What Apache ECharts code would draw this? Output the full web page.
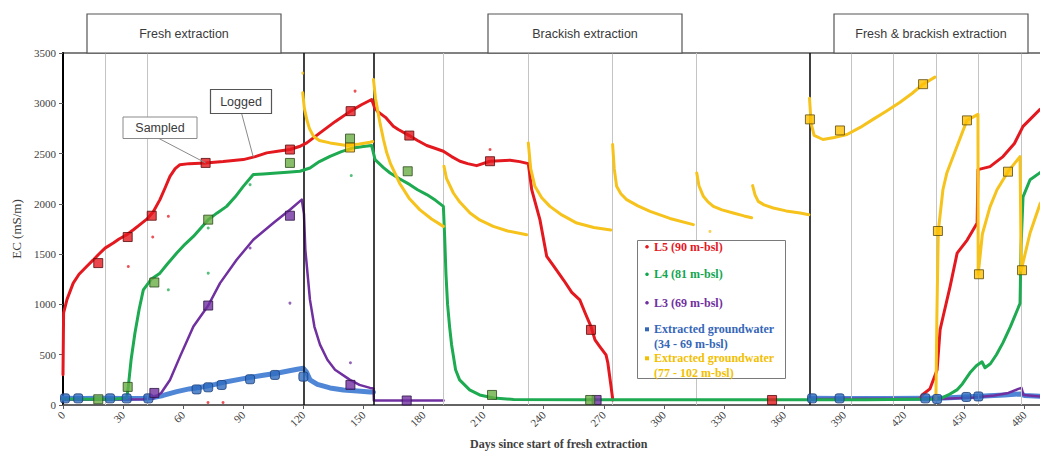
<!DOCTYPE html>
<html>
<head>
<meta charset="utf-8">
<script src="https://cdn.jsdelivr.net/npm/echarts/dist/echarts.min.js"></script>
<style>
  html, body { margin: 0; padding: 0; background: #ffffff; }
  #chart { width: 1040px; height: 451px; }
</style>
</head>
<body>
<div id="chart"></div>
<script>
// ---- Data: days since start of fresh extraction vs. EC (mS/m) ----

// x axis tick values
const dayTicks = [0, 30, 60, 90, 120, 150, 180, 210, 240, 270, 300, 330, 360, 390, 420, 450, 480];
// y axis tick values
const ecTicks = [0, 500, 1000, 1500, 2000, 2500, 3000, 3500];

// Phase change days (black) and well operation changes (grey)
const phaseDays = [120, 155, 372.7];
const changeDays = [21, 42, 190, 232.3, 274.4, 316.4, 393.4, 414.6, 435.8, 456.8, 478.3];

// Logged EC, monitoring well L5 (90 m-bsl)
const l5Logged = [
  [0, 300], [0.3, 916], [2, 1050], [5.1, 1212], [8, 1300], [11.8, 1377], [15, 1440], [17.6, 1494],
  [21, 1560], [25.1, 1610], [28, 1650], [31.8, 1693], [35, 1740], [38.4, 1793], [42, 1850], [45, 1920],
  [48.4, 2042], [51, 2160], [53.4, 2274], [56, 2350], [58.4, 2390], [63, 2400], [71.2, 2407], [80, 2420],
  [90, 2440], [96, 2470], [101.7, 2507], [108, 2525], [113.3, 2540], [118, 2570], [121.7, 2606],
  [128.3, 2706], [136, 2820], [143.6, 2922], [149, 2985], [154.1, 3038], [155.5, 2960], [157, 2920],
  [161, 2860], [164.9, 2772], [167.4, 2739], [172.9, 2679], [177, 2630], [181.6, 2580], [186, 2550],
  [189.9, 2523], [194, 2470], [198.2, 2424], [202, 2400], [206.5, 2380], [213.2, 2424], [223.2, 2434],
  [228, 2420], [232.3, 2400], [234, 2141], [238.1, 1843], [241.5, 1477], [245, 1380], [250, 1240],
  [254, 1120], [258, 1045], [261, 900], [263.6, 780], [265.6, 647], [268, 580], [271.1, 498], [272, 420],
  [273.5, 200], [274.5, 50], [275, null],
  [428, 60], [428.9, 100], [432.8, 160], [436.4, 350], [437.9, 750],
  [439.4, 880], [442.9, 1180], [446.4, 1510], [451.4, 1640], [456.4, 1810], [456.8, 2340], [462.8, 2370],
  [469.3, 2470], [475, 2600], [479.3, 2770], [482.8, 2840], [487.8, 2940], [495, 3000]
];
// Sampled EC, L5
const l5Sampled = [
  [17.6, 1411], [32.3, 1670], [44.3, 1882], [71.2, 2407], [113.3, 2540], [143.6, 2922],
  [172.9, 2679], [213.2, 2424], [263.6, 747], [354, 50]
];
// Isolated logger readings, L5
const l5Spikes = [[32.6, 1377], [44.8, 1670], [52.6, 1876], [72.4, 25], [79.9, 25], [145.8, 3121], [213.2, 2540]];

// Logged EC, monitoring well L4 (81 m-bsl)
const l4Logged = [
  [0, 60], [15, 58], [25, 58], [31.8, 70], [32.6, 182], [34, 450], [35.9, 714], [38, 950], [40.1, 1145],
  [44, 1250], [48.4, 1311], [52, 1400], [56.8, 1511], [61, 1600], [65.1, 1676], [72.5, 1843], [77, 1910],
  [81.7, 1975], [86, 2070], [90, 2174], [95, 2291], [100, 2298], [106.7, 2307], [112, 2315], [118.3, 2324],
  [123.3, 2357], [128, 2420], [133.3, 2473], [139, 2520], [144.9, 2556], [150, 2570], [154.1, 2580],
  [155.8, 2440], [160, 2360], [163.3, 2307], [168, 2250], [173.2, 2191], [177, 2140], [181.6, 2092],
  [186, 2035], [189.9, 1975], [190.5, 1700], [191.2, 1300], [192, 1000], [193, 780], [194, 600], [196, 350],
  [198, 250], [203, 150], [208, 100], [215, 70], [225, 55], [260, 52], [300, 52], [350, 52], [400, 52],
  [437.8, 60], [442, 100], [446.3, 150], [449, 210], [452.8, 320], [456, 390], [458.8, 430], [460.3, 370],
  [463, 410], [466, 500], [469.3, 620], [473, 780], [477.8, 1010], [478.3, 1570], [479.3, 2070],
  [482.8, 2240], [487.8, 2310], [495, 2380]
];
const l4Sampled = [
  [17.6, 57], [32.3, 180], [45.6, 1218], [72.5, 1843], [113.3, 2407], [143.3, 2649], [172.1, 2324],
  [214.2, 100], [263.2, 50]
];
const l4Spikes = [[52.6, 1145], [72.5, 1311], [72.5, 1760], [93.4, 2191], [143.9, 2281]];

// Logged EC, monitoring well L3 (69 m-bsl)
const l3Logged = [
  [0, 55], [20, 55], [40, 58], [45, 65], [49, 120], [53.4, 249], [58.4, 481], [65.1, 780], [72.5, 989],
  [78.4, 1212], [86.7, 1444], [95, 1643], [105, 1809], [113.3, 1942], [119.2, 2042], [120.3, 1900],
  [121, 1540], [123.3, 1045], [125.5, 780], [128.3, 600], [132, 450], [135.8, 350], [143.3, 250],
  [148, 200], [153.3, 170], [155, 165], [155.2, 45], [190, 45], [190.2, null],
  [372.7, 60], [400, 62], [440, 62], [455, 75], [465, 95], [472, 120], [477, 160], [478.5, 170],
  [479.5, 100], [488, 85], [495, 80]
];
const l3Sampled = [[45.6, 120], [72.5, 989], [113.3, 1882], [143.5, 200], [171.6, 45], [266.4, 50]];
const l3Spikes = [[93.4, 1561], [113.3, 1013], [143.5, 420]];

// Extracted groundwater, fresh screens (34 - 69 m-bsl)
const freshLogged = [
  [0, 66], [10, 64], [20, 66], [30, 65], [40, 68], [45, 75], [50, 95], [56.8, 133], [63, 160], [70, 182],
  [76, 205], [81.7, 232], [88, 255], [93.4, 275], [100, 295], [106.7, 315], [113, 340], [117, 355],
  [120, 365], [121.5, 330], [123.3, 250], [127, 205], [133.3, 170], [140, 150], [147, 140], [153.3, 130],
  [155, 128], [155.2, null],
  [372.7, 66], [390, 64], [410, 65], [430, 66], [440, 70], [450, 80], [460, 90], [470, 100], [478, 110],
  [480, 95], [495, 80]
];
const freshSampled = [
  [1, 66], [7.6, 66], [23.5, 66], [31.8, 66], [42.6, 66], [66.7, 155], [72.5, 176], [79.2, 199],
  [93.4, 256], [105.8, 299], [120, 282], [374, 66], [387.7, 66], [430.5, 66], [436.4, 60], [451, 80], [457, 85]
];

// Extracted groundwater, brackish screens (77 - 102 m-bsl)
const brackishLogged = [
  [119.7, 3104], [120.5, 2950], [121.7, 2839], [123, 2750], [125, 2673], [128, 2630], [133.3, 2606],
  [141.6, 2580], [148, 2595], [153.3, 2613], [154.6, 2620], [154.8, null],
  [155, 3237], [156, 3050], [158.3, 2800], [160, 2640], [161.6, 2510], [163.5, 2400], [168.2, 2200],
  [173, 2050], [178.2, 1940], [184, 1850], [189.9, 1776], [190, null],
  [190.2, 2374], [191.5, 2250], [194.9, 2108], [198, 2020], [203.2, 1909], [208, 1840], [214.8, 1776],
  [222, 1730], [231.5, 1693], [232, null],
  [232.3, 2606], [233.5, 2350], [235.6, 2174], [239, 2060], [243.1, 1975], [249, 1890], [256.5, 1809],
  [265, 1765], [273.5, 1740], [274, null],
  [274.4, 2590], [275.2, 2350], [276.4, 2174], [278.5, 2100], [281.4, 2042], [287, 1980], [293.1, 1926],
  [303, 1855], [314.7, 1793], [315, null],
  [316.4, 2307], [317.5, 2180], [319.7, 2075], [322, 2020], [324.7, 1975], [329, 1940], [334.6, 1909],
  [340, 1880], [343.8, 1862], [344, null],
  [344.3, 2181], [345.5, 2090], [347.1, 2025], [350, 1990], [354.6, 1959], [361, 1930], [368, 1909],
  [372.4, 1892], [372.5, null],
  [372.7, 3050], [373.5, 2800], [375, 2680], [379.4, 2640], [385, 2660], [391.4, 2690], [398, 2760],
  [404.4, 2840], [411, 2920], [417.9, 3010], [424, 3100], [429.4, 3190], [435.3, 3260], [435.5, null],
  [435.8, 60], [436.3, 900], [437, 1730], [439.3, 2140], [441.3, 2310], [446.3, 2570], [451.3, 2830],
  [456.8, 2890], [456.9, 1300], [459, 1700], [462.8, 1970], [466.3, 2140], [471.8, 2320], [477.8, 2470],
  [478.4, 1340], [482.8, 1710], [487.8, 2000], [495, 2200]
];
const brackishSampled = [
  [143.3, 2560], [372.9, 2840], [387.9, 2730], [429.4, 3190], [436.8, 1730], [451.3, 2830],
  [457.3, 1300], [471.8, 2320], [478.8, 1340]
];
const brackishSpikes = [[323, 1726], [119.7, 3300]];

// ---- Styling ----
const C = {
  l5: '#e3191f',
  l4: '#1daa50',
  l4Fill: '#6aae45',
  l3: '#7030a0',
  fresh: '#4f86d6',
  freshMark: '#2e6cc0',
  brackish: '#f6c21c',
  brackishFill: '#ffc000',
  axis: '#404040'
};
const serif = 'Liberation Serif';
const sans = 'Liberation Sans';

const chart = echarts.init(document.getElementById('chart'), null, { renderer: 'svg' });

function lineSeries(name, data, color, width, z) {
  return {
    name, type: 'line', data, z,
    showSymbol: false, connectNulls: false, smooth: false,
    lineStyle: { color, width, cap: 'round', join: 'round' },
    itemStyle: { color },
    emphasis: { disabled: true }, animation: false
  };
}
function squareSeries(name, data, fill, border, z, symbol, size) {
  return {
    name, type: 'scatter', data, z,
    symbol: symbol || 'rect', symbolSize: size || 9,
    itemStyle: { color: fill, borderColor: border, borderWidth: 1 },
    emphasis: { disabled: true }, animation: false
  };
}
function dotSeries(name, data, color, z) {
  return {
    name, type: 'scatter', data, z, symbol: 'circle', symbolSize: 3,
    itemStyle: { color, opacity: 0.75 }, emphasis: { disabled: true }, animation: false
  };
}

const markData = phaseDays.map(d => ({ xAxis: d, lineStyle: { color: '#111', width: 1.6, type: 'solid' } }))
  .concat(changeDays.map(d => ({ xAxis: d, lineStyle: { color: '#c4c4c4', width: 1, type: 'solid' } })));

const pxPerDay = 2.003;
const xMax = 495;

chart.setOption({
  animation: false,
  backgroundColor: '#ffffff',
  grid: {
    left: 63, top: 53, width: xMax * pxPerDay, height: 352,
    outerBoundsMode: 'none', containLabel: false,
    show: true, borderColor: '#5a5a5a', borderWidth: 1.5, backgroundColor: 'transparent'
  },
  xAxis: {
    type: 'value', min: 0, max: xMax, interval: 30,
    name: 'Days since start of fresh extraction', nameLocation: 'middle', nameGap: 33,
    nameTextStyle: { fontFamily: serif, fontSize: 12, fontWeight: 'bold', color: C.axis },
    axisLine: { show: true, lineStyle: { color: '#5a5a5a', width: 1.5 } },
    axisTick: { show: true, length: 4, lineStyle: { color: '#5a5a5a' } },
    axisLabel: {
      rotate: 45, fontFamily: serif, fontSize: 11, color: C.axis, margin: 8, showMaxLabel: false,
      formatter: v => (dayTicks.indexOf(v) >= 0 ? String(v) : '')
    },
    splitLine: { show: false }
  },
  yAxis: {
    type: 'value', min: 0, max: 3500, interval: 500,
    name: 'EC (mS/m)', nameLocation: 'middle', nameGap: 40, nameRotate: 90,
    nameTextStyle: { fontFamily: serif, fontSize: 13, color: C.axis },
    axisLine: { show: true, lineStyle: { color: '#000', width: 2 } },
    axisTick: { show: true, length: 4, lineStyle: { color: '#5a5a5a' } },
    axisLabel: {
      fontFamily: serif, fontSize: 11, color: C.axis, margin: 7,
      formatter: v => (ecTicks.indexOf(v) >= 0 ? String(v) : '')
    },
    splitLine: { show: false }
  },
  series: [
    {
      name: 'operation changes', type: 'line', data: [], z: 1, silent: true,
      markLine: { silent: true, symbol: ['none', 'none'], label: { show: false }, animation: false, data: markData }
    },
    lineSeries('Extracted groundwater (34 - 69 m-bsl)', freshLogged, C.fresh, 5, 3),
    lineSeries('L3 (69 m-bsl)', l3Logged, C.l3, 2.5, 4),
    lineSeries('L5 (90 m-bsl)', l5Logged, C.l5, 3, 5),
    lineSeries('L4 (81 m-bsl)', l4Logged, C.l4, 3, 6),
    lineSeries('Extracted groundwater (77 - 102 m-bsl)', brackishLogged, C.brackish, 3, 7),
    dotSeries('L5 readings', l5Spikes, C.l5, 8),
    dotSeries('L4 readings', l4Spikes, C.l4, 8),
    dotSeries('L3 readings', l3Spikes, C.l3, 8),
    dotSeries('brackish readings', brackishSpikes, C.brackish, 8),
    squareSeries('fresh sampled', freshSampled, C.freshMark, '#1d3f78', 9, 'roundRect', 9),
    squareSeries('L3 sampled', l3Sampled, C.l3, '#2d1545', 10),
    squareSeries('L4 sampled', l4Sampled, C.l4Fill, '#2c4a1c', 10),
    squareSeries('L5 sampled', l5Sampled, C.l5, '#5a0a0a', 11),
    squareSeries('brackish sampled', brackishSampled, C.brackishFill, '#5b4a0e', 12)
  ]
});

// ---- Annotations, phase labels and key ----
const px = (d, v) => chart.convertToPixel({ gridIndex: 0 }, [d, v]);
const sampledTarget = px(71.2, 2407);
const loggedTarget = px(95, 2465);

function box(x, y, w, h, text, font, stroke, lw) {
  return [
    { type: 'rect', shape: { x, y, width: w, height: h }, z: 50,
      style: { fill: '#ffffff', stroke, lineWidth: lw } },
    { type: 'text', x: x + w / 2, y: y + h / 2, z: 51,
      style: { text, fill: '#3a3a3a', font, textAlign: 'center', textVerticalAlign: 'middle' } }
  ];
}

const keyRows = [
  { y: 246.7, lines: ['L5 (90 m-bsl)'], color: C.l5, icon: 'dot' },
  { y: 274.3, lines: ['L4 (81 m-bsl)'], color: '#12a650', icon: 'dot' },
  { y: 302.7, lines: ['L3 (69 m-bsl)'], color: C.l3, icon: 'dot' },
  { y: 329.3, lines: ['Extracted groundwater', '(34 - 69 m-bsl)'], color: '#3566b8', icon: 'sq' },
  { y: 358.3, lines: ['Extracted groundwater', '(77 - 102 m-bsl)'], color: '#f2c000', icon: 'sq' }
];
const keyEls = [
  { type: 'rect', shape: { x: 637.5, y: 240.5, width: 148, height: 138 }, z: 60,
    style: { fill: '#ffffff', stroke: '#7a7a7a', lineWidth: 1 } }
];
keyRows.forEach(r => {
  if (r.icon === 'dot') {
    keyEls.push({ type: 'circle', shape: { cx: 647, cy: r.y, r: 1.8 }, z: 61, style: { fill: r.color } });
  } else {
    keyEls.push({ type: 'rect', shape: { x: 645, y: r.y - 2, width: 4, height: 4 }, z: 61, style: { fill: r.color } });
  }
  r.lines.forEach((t, i) => {
    keyEls.push({ type: 'text', x: 654, y: r.y + i * 15, z: 61,
      style: { text: t, fill: r.color, font: 'bold 12px "' + serif + '"', textVerticalAlign: 'middle' } });
  });
});

const phaseFont = '12.5px "' + sans + '"';
const noteFont = '12.5px "' + sans + '"';

chart.setOption({
  graphic: [].concat(
    box(87, 14, 194, 39, 'Fresh extraction', phaseFont, '#555555', 1.2),
    box(488, 14, 194, 39, 'Brackish extraction', phaseFont, '#555555', 1.2),
    box(834, 14, 194, 39, 'Fresh & brackish extraction', phaseFont, '#555555', 1.2),
    [
      { type: 'line', z: 49, shape: { x1: 158, y1: 138, x2: sampledTarget[0], y2: sampledTarget[1] },
        style: { stroke: '#8a8a8a', lineWidth: 1 } },
      { type: 'line', z: 49, shape: { x1: 241.5, y1: 113, x2: loggedTarget[0], y2: loggedTarget[1] },
        style: { stroke: '#8a8a8a', lineWidth: 1 } }
    ],
    box(123, 117, 74, 21.5, 'Sampled', noteFont, '#8a8a8a', 1),
    box(210.5, 89.5, 61, 24, 'Logged', noteFont, '#555555', 1.2),
    keyEls
  )
});
</script>
</body>
</html>
